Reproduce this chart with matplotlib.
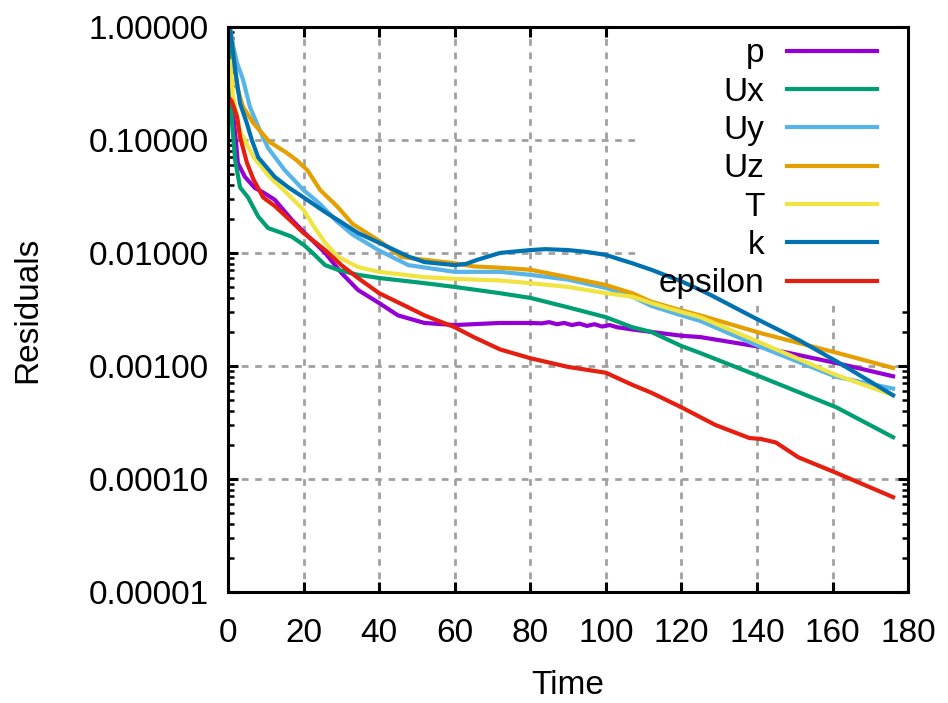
import numpy as np
import matplotlib
matplotlib.use("Agg")
import matplotlib.pyplot as plt
from matplotlib.patches import Rectangle
from matplotlib.ticker import LogLocator, NullFormatter, FormatStrFormatter, MultipleLocator

plt.rcParams['font.family'] = ['Liberation Sans', 'DejaVu Sans']

# residual curves (time, residual)
p_t = [0.5, 1.5, 2.2, 2.6, 4.5, 7.1, 9.5, 12.4, 16.9, 20, 25.7, 30.1, 34.4, 40, 45, 52, 60, 66, 72, 80,
       83, 85, 87, 89, 91, 93, 95, 97, 99, 101, 103, 107, 112, 120, 125, 141, 161, 176]
p_y = [0.5, 0.15, 0.09, 0.0625, 0.047, 0.0376, 0.034, 0.0295, 0.0196, 0.0154, 0.010, 0.0066, 0.0047,
       0.0036, 0.0028, 0.0024, 0.0023, 0.00235, 0.0024, 0.0024, 0.00238, 0.00244, 0.00234, 0.0024,
       0.0023, 0.00237, 0.00226, 0.00234, 0.00223, 0.0023, 0.0022, 0.0021, 0.0020, 0.00185, 0.0018,
       0.00147, 0.00106, 0.00081]

ux_t = [0, 0.5, 1, 1.9, 3.2, 5.3, 8, 10.6, 14.3, 16.9, 20, 22.4, 25.7, 29, 34.4, 40, 52, 60, 72, 80,
        90, 100, 107, 112, 120, 125, 141, 161, 176]
ux_y = [1.0, 0.5, 0.15, 0.066, 0.038, 0.031, 0.021, 0.0166, 0.015, 0.0139, 0.0118, 0.0100, 0.0078,
        0.0071, 0.0064, 0.0060, 0.0054, 0.0050, 0.0044, 0.0040, 0.0033, 0.0027, 0.0022, 0.0020,
        0.0015, 0.0013, 0.0008, 0.00043, 0.000234]

uy_t = [0.5, 1.5, 2.4, 4, 5.8, 8.5, 10.6, 15, 20, 24.4, 28.8, 33, 40, 47.7, 60, 72, 80, 90, 100, 107,
        112, 120, 125, 141, 161, 176]
uy_y = [1.0, 0.65, 0.48, 0.34, 0.196, 0.12, 0.085, 0.054, 0.036, 0.027, 0.019, 0.0145, 0.0105, 0.0078,
        0.0068, 0.0068, 0.0064, 0.0058, 0.0049, 0.0041, 0.0034, 0.0028, 0.0025, 0.00147, 0.0008, 0.00063]

uz_t = [0.5, 1.0, 2.4, 4, 6.7, 11, 15.5, 18.2, 21, 24.4, 28.8, 33, 40, 46, 52, 60, 65, 72, 80, 90, 100,
        107, 112, 120, 125, 141, 161, 176]
uz_y = [0.9, 0.77, 0.29, 0.196, 0.141, 0.096, 0.077, 0.066, 0.054, 0.036, 0.026, 0.018, 0.0128, 0.0092,
        0.0087, 0.0081, 0.0076, 0.0074, 0.0071, 0.0061, 0.0052, 0.0044, 0.0037, 0.0031, 0.0028,
        0.00195, 0.00131, 0.00096]

T_t = [0.5, 1.3, 3.2, 6.7, 11, 15.5, 20, 23, 25.7, 29, 34.4, 40, 52, 60, 72, 80, 90, 100, 107, 112,
       120, 125, 141, 161, 176]
T_y = [0.5, 0.25, 0.12, 0.071, 0.047, 0.034, 0.024, 0.0166, 0.0123, 0.0093, 0.0075, 0.0068, 0.0061,
       0.0059, 0.0057, 0.0054, 0.0050, 0.0044, 0.0041, 0.0036, 0.0030, 0.0027, 0.0016, 0.00083, 0.00055]

k_t = [0.5, 1.9, 3.2, 5, 6.3, 8, 12.4, 16, 20, 25.7, 30, 34.4, 40, 47.7, 52, 60, 63, 66, 72, 80, 84,
       90, 95, 100, 104, 107, 112, 120, 125, 128, 139, 151, 161, 176]
k_y = [1.0, 0.42, 0.21, 0.14, 0.10, 0.07, 0.047, 0.038, 0.031, 0.023, 0.0187, 0.015, 0.0123, 0.0093,
       0.0083, 0.0078, 0.0080, 0.0087, 0.0100, 0.0106, 0.0108, 0.0106, 0.0102, 0.0096, 0.0087, 0.0081,
       0.0071, 0.0056, 0.0047, 0.0042, 0.0027, 0.0017, 0.0011, 0.00055]

eps_t = [0.5, 1, 2.4, 3.2, 5, 6.7, 9.3, 12.4, 17, 20, 25.7, 30, 34.4, 40, 47.7, 52, 60, 65, 72, 80,
         90, 100, 107, 112, 120, 129, 138, 141, 145, 151, 161, 176]
eps_y = [0.23, 0.22, 0.16, 0.106, 0.063, 0.045, 0.031, 0.026, 0.0187, 0.015, 0.0106, 0.0078, 0.006,
         0.0044, 0.0033, 0.0028, 0.0022, 0.0018, 0.0014, 0.00117, 0.00098, 0.00087, 0.00068, 0.00058,
         0.00043, 0.0003, 0.00023, 0.000226, 0.00021, 0.000155, 0.000113, 0.000069]

series = [
    ("p", p_t, p_y, "#9400d3"),
    ("Ux", ux_t, ux_y, "#009e73"),
    ("Uy", uy_t, uy_y, "#56b4e9"),
    ("Uz", uz_t, uz_y, "#e69f00"),
    ("T", T_t, T_y, "#f0e442"),
    ("k", k_t, k_y, "#0072b2"),
    ("epsilon", eps_t, eps_y, "#e51e10"),
]

fig = plt.figure(figsize=(9.48, 7.03), dpi=100)
ax = fig.add_axes([0.2405, 0.158, 0.7175, 0.8037])

for name, t, y, c in series:
    ax.plot(t, y, color=c, lw=3, label=name, zorder=2)

ax.set_yscale("log")
ax.set_xlim(0, 180)
ax.set_ylim(1e-5, 1)
ax.xaxis.set_major_locator(MultipleLocator(20))
ax.yaxis.set_major_locator(LogLocator(base=10, numticks=10))
ax.yaxis.set_minor_locator(LogLocator(base=10, subs=np.arange(2, 10), numticks=10))
ax.yaxis.set_minor_formatter(NullFormatter())
ax.yaxis.set_major_formatter(FormatStrFormatter("%.5f"))

ax.set_axisbelow(True)
ax.grid(True, which="major", color="#a0a0a0", lw=2, linestyle=(0, (2.4, 2.4)))

for s in ax.spines.values():
    s.set_linewidth(2.2)
ax.tick_params(which="major", direction="in", top=True, right=True, length=7, width=2.2,
               labelsize=24)
ax.tick_params(which="minor", direction="in", left=True, right=True, length=4, width=1.8)
ax.tick_params(axis="x", pad=19)
ax.tick_params(axis="y", pad=14)

ax.set_xlabel("Time", fontsize=24)
ax.set_ylabel("Residuals", fontsize=24)
ax.xaxis.set_label_coords(0.5, -0.138)
ax.yaxis.set_label_coords(-0.272, 0.5)

leg = ax.legend(loc="upper right", bbox_to_anchor=(0.954, 0.980), frameon=False, markerfirst=False,
                fontsize=24, handlelength=2.7, handletextpad=0.67, labelspacing=0.22,
                borderpad=0, borderaxespad=0)
leg.set_zorder(5)

# white key box hiding the grid behind the legend
fig.canvas.draw()
bb = leg.get_window_extent().transformed(ax.transAxes.inverted())
ax.add_patch(Rectangle((bb.x0 - 0.035, bb.y0 - 0.01), 1.0 - bb.x0 + 0.035, 1.0 - bb.y0 + 0.01,
                       transform=ax.transAxes, facecolor="white", edgecolor="none", zorder=1))

fig.savefig("out.png", dpi=100)
